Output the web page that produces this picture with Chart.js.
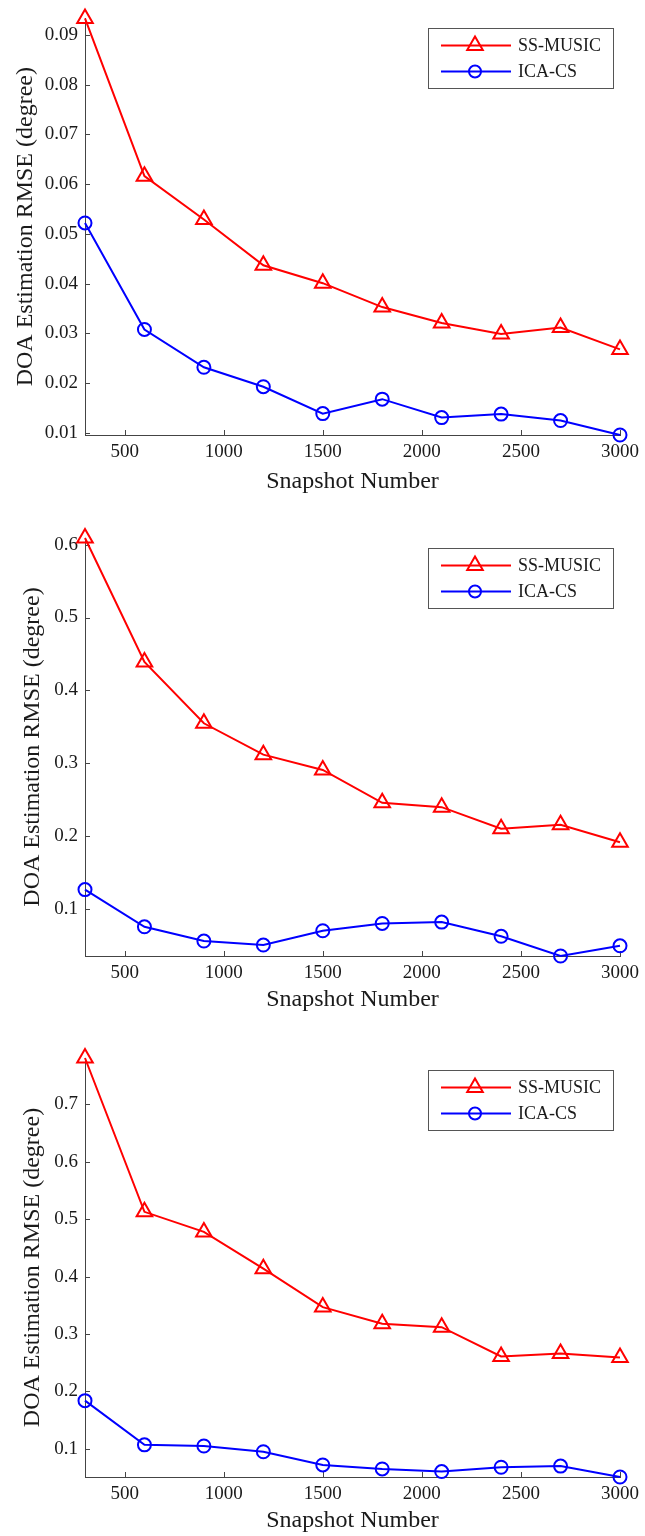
<!DOCTYPE html>
<html><head><meta charset="utf-8">
<script src="https://cdn.jsdelivr.net/npm/chart.js@4/dist/chart.umd.min.js"></script>
<style>
body{margin:0;background:#fff;width:645px;}
.wrap{position:relative;width:645px;}
canvas{display:block;}
</style></head><body>
<div class="wrap"><canvas id="c1" width="645" height="500"></canvas></div>
<div class="wrap"><canvas id="c2" width="645" height="520"></canvas></div>
<div class="wrap"><canvas id="c3" width="645" height="516"></canvas></div>
<script>
// ---- data ----
const snapshots = [300, 600, 900, 1200, 1500, 1800, 2100, 2400, 2700, 3000];
const xTicks = [500, 1000, 1500, 2000, 2500, 3000];
const seriesNames = ['SS-MUSIC', 'ICA-CS'];
const xTitle = 'Snapshot Number';
const yTitle = 'DOA Estimation RMSE (degree)';

const ssMusic1 = [0.0933, 0.0616, 0.0529, 0.0437, 0.0401, 0.0353, 0.0321, 0.0299, 0.0312, 0.0268];
const icaCs1   = [0.0522, 0.0308, 0.0232, 0.0193, 0.0139, 0.0168, 0.0131, 0.0138, 0.0125, 0.0096];
const yTicks1  = [0.01, 0.02, 0.03, 0.04, 0.05, 0.06, 0.07, 0.08, 0.09];

const ssMusic2 = [0.609, 0.439, 0.355, 0.312, 0.291, 0.246, 0.240, 0.2105, 0.216, 0.192];
const icaCs2   = [0.127, 0.076, 0.0565, 0.051, 0.0706, 0.0806, 0.0825, 0.063, 0.036, 0.050];
const yTicks2  = [0.1, 0.2, 0.3, 0.4, 0.5, 0.6];

const ssMusic3 = [0.781, 0.513, 0.478, 0.414, 0.347, 0.318, 0.312, 0.261, 0.266, 0.259];
const icaCs3   = [0.184, 0.107, 0.105, 0.095, 0.072, 0.065, 0.0605, 0.068, 0.070, 0.051];
const yTicks3  = [0.1, 0.2, 0.3, 0.4, 0.5, 0.6, 0.7];

// ---- styling ----
const FONT = "'Liberation Serif', 'Times New Roman', serif";
const AXIS = '#444';
const TEXT = '#1a1a1a';

function drawMarker(ctx, style, x, y, r, color) {
  ctx.save();
  ctx.strokeStyle = color; ctx.lineWidth = 2;
  ctx.beginPath();
  if (style === 'triangle') {
    const h = r * 1.5, w = r * Math.sqrt(3) / 2;
    ctx.moveTo(x, y - r);
    ctx.lineTo(x + w, y + r / 2);
    ctx.lineTo(x - w, y + r / 2);
    ctx.closePath();
  } else {
    ctx.arc(x, y, r, 0, Math.PI * 2);
  }
  ctx.stroke();
  ctx.restore();
}

const inwardTicks = {
  id: 'inwardTicks',
  beforeDatasetsDraw(chart) {
    const {ctx, chartArea} = chart;
    const x = chart.scales.x, y = chart.scales.y;
    ctx.save();
    ctx.strokeStyle = AXIS; ctx.lineWidth = 1;
    x.ticks.forEach(t => {
      const px = Math.round(x.getPixelForValue(t.value)) + 0.5;
      ctx.beginPath(); ctx.moveTo(px, chartArea.bottom); ctx.lineTo(px, chartArea.bottom - 5); ctx.stroke();
    });
    y.ticks.forEach(t => {
      const py = Math.round(y.getPixelForValue(t.value)) + 0.5;
      ctx.beginPath(); ctx.moveTo(chartArea.left, py); ctx.lineTo(chartArea.left + 5, py); ctx.stroke();
    });
    ctx.restore();
  }
};

const boxLegend = {
  id: 'boxLegend',
  afterDraw(chart, args, opts) {
    const {ctx} = chart;
    const bx = 428.5, bw = 185, bh = 60, by = opts.top + 0.5;
    ctx.save();
    ctx.fillStyle = '#fff';
    ctx.fillRect(bx, by, bw, bh);
    ctx.strokeStyle = '#555'; ctx.lineWidth = 1;
    ctx.strokeRect(bx, by, bw, bh);
    chart.data.datasets.forEach((ds, i) => {
      const ry = by + 17 + i * 26;
      ctx.strokeStyle = ds.borderColor; ctx.lineWidth = 2;
      ctx.beginPath(); ctx.moveTo(441, ry); ctx.lineTo(511, ry); ctx.stroke();
      drawMarker(ctx, ds.pointStyle, 475, ry, ds.pointStyle === 'triangle' ? 9 : 6, ds.borderColor);
      ctx.fillStyle = TEXT;
      ctx.font = '18px ' + FONT;
      ctx.textBaseline = 'middle'; ctx.textAlign = 'left';
      ctx.fillText(ds.label, 518, ry + 1);
    });
    ctx.restore();
  }
};

function makeChart(id, H, plotTop, plotBottom, ss, ica, yTicks, dec, yTitlePad, xTitlePad, legendTop) {
  const all = ss.concat(ica);
  return new Chart(document.getElementById(id), {
    type: 'line',
    data: {
      labels: snapshots,
      datasets: [
        {label: seriesNames[0], data: snapshots.map((s, i) => ({x: s, y: ss[i]})),
         borderColor: '#ff0000', backgroundColor: 'rgba(0,0,0,0)', borderWidth: 2,
         pointStyle: 'triangle', pointRadius: 9, pointBorderWidth: 2, pointBackgroundColor: 'rgba(0,0,0,0)',
         tension: 0, clip: false},
        {label: seriesNames[1], data: snapshots.map((s, i) => ({x: s, y: ica[i]})),
         borderColor: '#0000ff', backgroundColor: 'rgba(0,0,0,0)', borderWidth: 2,
         pointStyle: 'circle', pointRadius: 6.5, pointBorderWidth: 2, pointBackgroundColor: 'rgba(0,0,0,0)',
         tension: 0, clip: false}
      ]
    },
    options: {
      responsive: false,
      animation: false,
      devicePixelRatio: 1,
      layout: {padding: {top: plotTop, right: 22, left: 0, bottom: 0}},
      plugins: {legend: {display: false}, tooltip: {enabled: false}, boxLegend: {top: legendTop}},
      scales: {
        x: {
          type: 'linear', position: 'bottom', min: 300, max: 3000,
          afterBuildTicks: s => { s.ticks = xTicks.map(v => ({value: v})); },
          afterFit: s => { s.height = H - plotBottom; },
          grid: {display: true, drawOnChartArea: false, drawTicks: false},
          border: {display: true, color: AXIS, width: 1},
          ticks: {color: TEXT, font: {family: FONT, size: 19}, padding: 6, maxRotation: 0,
                  callback: v => String(v)},
          title: {display: true, text: xTitle, color: TEXT, font: {family: FONT, size: 24},
                  padding: {top: 0, bottom: xTitlePad}}
        },
        y: {
          type: 'linear', position: 'left', min: Math.min(...all), max: Math.max(...all),
          afterBuildTicks: s => { s.ticks = yTicks.map(v => ({value: v})); },
          afterFit: s => { s.width = 85; },
          grid: {display: true, drawOnChartArea: false, drawTicks: false},
          border: {display: true, color: AXIS, width: 1},
          ticks: {color: TEXT, font: {family: FONT, size: 19}, padding: 7,
                  callback: v => Number(v).toFixed(dec)},
          title: {display: true, text: yTitle, color: TEXT, font: {family: FONT, size: 24},
                  padding: {top: yTitlePad, bottom: 0}}
        }
      }
    },
    plugins: [inwardTicks, boxLegend]
  });
}

makeChart('c1', 500, 18, 435, ssMusic1, icaCs1, yTicks1, 2, 11.6, 3.6, 28);
makeChart('c2', 520, 38, 456, ssMusic2, icaCs2, yTicks2, 1, 18.6, 5.6, 48);
makeChart('c3', 516, 38, 457, ssMusic3, icaCs3, yTicks3, 1, 18.6, 0.5, 50);
</script>
</body></html>
